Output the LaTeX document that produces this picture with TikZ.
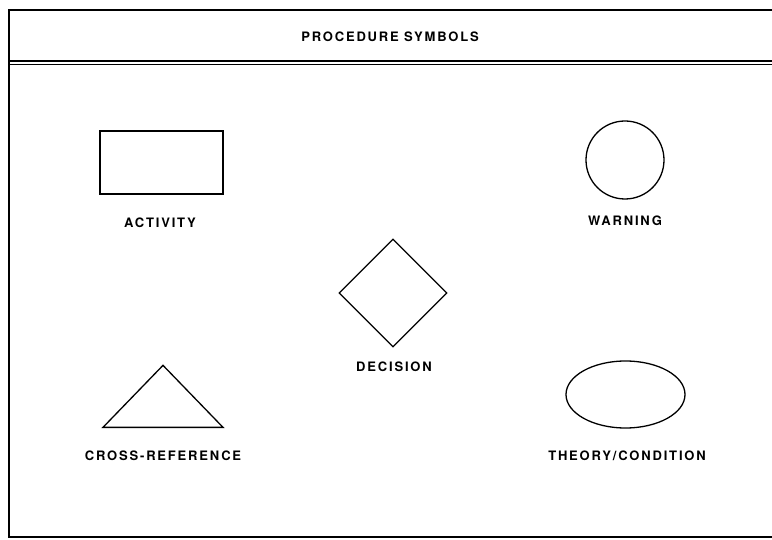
\documentclass[tikz,border=0pt]{standalone}
\usepackage{fontspec}
\setmainfont{TeX Gyre Heros}
\newfontfamily\lblfont[LetterSpace=14]{TeX Gyre Heros}
\usetikzlibrary{shapes.geometric}

\begin{document}
\begin{tikzpicture}[
    x=1pt, y=-1pt,
    every node/.style={font=\lblfont\bfseries\fontsize{13}{15}\selectfont},
    sym/.style={draw, line width=1.3pt, inner sep=0pt},
    frame/.style={line width=1.8pt},
    lbl/.style={inner sep=1pt}
]
\useasboundingbox (0,0) rectangle (772,540);

% outer frame and header
\draw[frame] (772,10) -- (9,10) -- (9,537) -- (772,537);
\draw[frame] (9,61) -- (772,61);
\draw[line width=1pt] (9,64.5) -- (772,64.5);
\node[lbl] (title) at (390,37) {PROCEDURE SYMBOLS};

% symbols
\node[sym, rectangle, minimum width=123pt, minimum height=63pt] (act) at (161.5,162.5) {};
\node[lbl] (actlbl) at (160,223) {ACTIVITY};

\node[sym, circle, minimum size=78pt] (warn) at (625,160) {};
\node[lbl] (warnlbl) at (625,221) {WARNING};

\node[sym, diamond, minimum width=108pt, minimum height=108pt] (dec) at (393,293) {};
\node[lbl] (declbl) at (394,367) {DECISION};

\node[sym, isosceles triangle, shape border rotate=90, isosceles triangle stretches,
      minimum width=120pt, minimum height=62pt, anchor=lower side] (xref) at (163,428) {};
\node[lbl] (xreflbl) at (163,456) {CROSS-REFERENCE};

\node[sym, ellipse, minimum width=119pt, minimum height=67pt] (theo) at (625.5,394.5) {};
\node[lbl] (theolbl) at (627,456) {THEORY/CONDITION};
\end{tikzpicture}
\end{document}
